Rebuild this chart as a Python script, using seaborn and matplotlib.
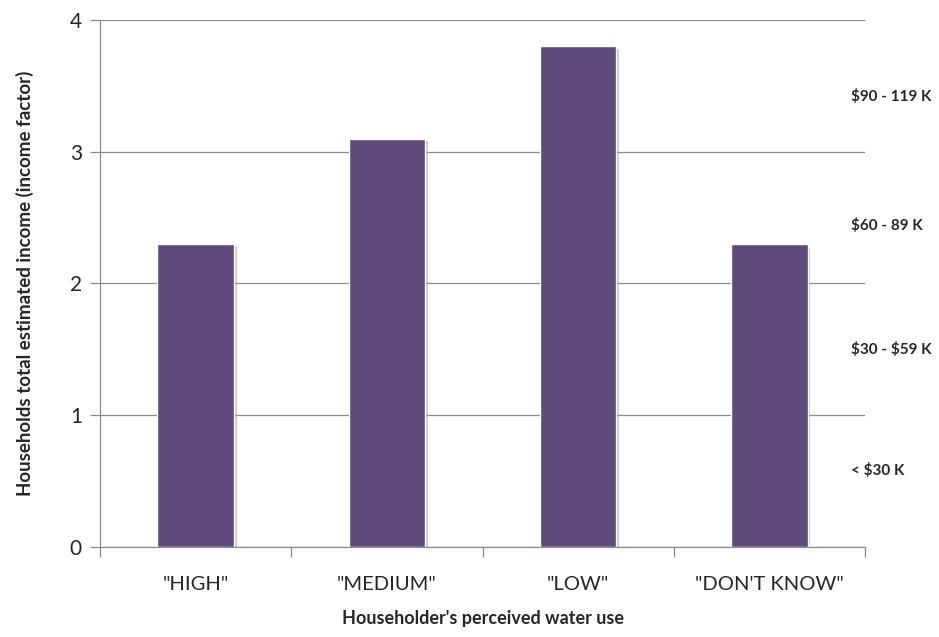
import matplotlib
matplotlib.use("Agg")
import matplotlib.pyplot as plt
import matplotlib.patheffects as pe
import seaborn as sns
import pandas as pd

categories = ['"HIGH"', '"MEDIUM"', '"LOW"', '"DON\'T KNOW"']
values = [2.3, 3.1, 3.8, 2.3]
income_labels = [r"< \$30 K", r"\$30 - \$59 K", r"\$60 - 89 K", r"\$90 - 119 K"]
income_pos = [0.58, 1.50, 2.44, 3.42]

sns.set_theme(style="white")
plt.rcParams['font.family'] = ['Lato', 'DejaVu Sans']

df = pd.DataFrame({"use": categories, "income": values})

fig = plt.figure(figsize=(9.39, 6.37), dpi=100)
ax = fig.add_axes([0.1065, 0.1413, 0.8147, 0.8273])

sns.barplot(data=df, x="use", y="income", color="#5f4b7b", saturation=1,
            width=0.40, ax=ax)
for p in ax.patches:
    p.set_path_effects([pe.SimplePatchShadow(offset=(2, -2), shadow_rgbFace="#9a9a9a", alpha=0.5),
                        pe.Normal()])

ax.set_ylim(0, 4)
ax.set_xlim(-0.5, 3.5)
ax.set_yticks([0, 1, 2, 3, 4])
ax.yaxis.grid(True, color="#8c8c8c", linewidth=0.9)
ax.set_axisbelow(True)

for s in ["top", "right"]:
    ax.spines[s].set_visible(False)
for s in ["left", "bottom"]:
    ax.spines[s].set_color("#8c8c8c")
    ax.spines[s].set_linewidth(0.9)

# category tick marks sit between the bars
ax.set_xticks([-0.5, 0.5, 1.5, 2.5, 3.5], minor=True)
ax.tick_params(axis="x", which="major", length=0, labelsize=14.5, pad=21)
ax.tick_params(axis="x", which="minor", bottom=True, length=7, color="#8c8c8c", width=0.9)
ax.tick_params(axis="y", left=True, length=7, color="#8c8c8c", width=0.9, labelsize=15, pad=6)

ax.set_xlabel("Householder's perceived water use", fontsize=13, fontweight="bold", labelpad=12)
ax.set_ylabel("Households total estimated income (income factor)", fontsize=13.5,
              fontweight="bold", labelpad=26)

for lab, y in zip(income_labels, income_pos):
    ax.text(0.982, y, lab, transform=ax.get_yaxis_transform(), fontsize=11,
            fontweight="bold", ha="left", va="center")

fig.savefig("out.png", dpi=100)
